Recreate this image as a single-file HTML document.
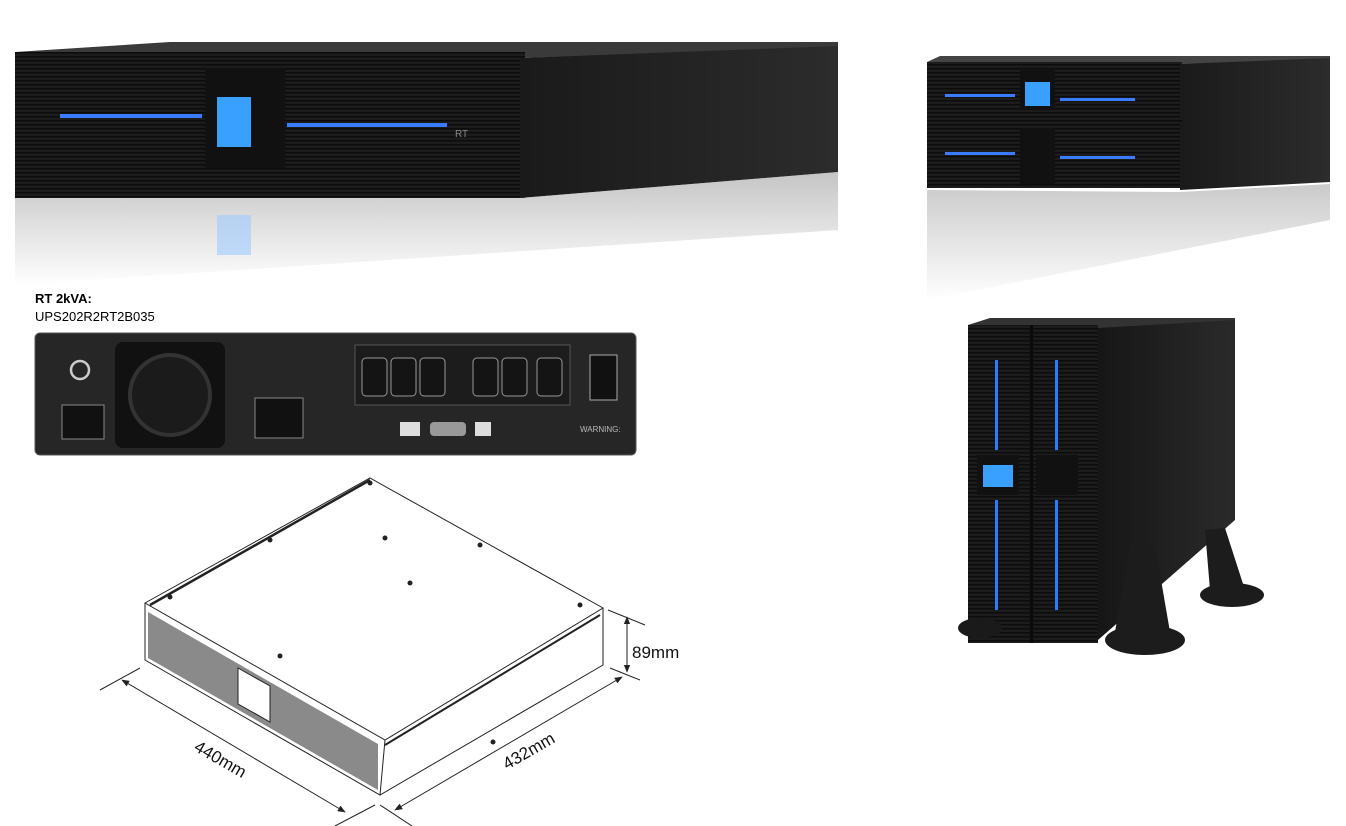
<!DOCTYPE html>
<html><head><meta charset="utf-8"><style>
html,body{margin:0;padding:0;background:#fff;}
svg{display:block;font-family:"Liberation Sans",Arial,sans-serif;}
</style></head><body>
<svg width="1346" height="826" viewBox="0 0 1346 826" xmlns="http://www.w3.org/2000/svg">
<defs>
<linearGradient id="refl" x1="0" y1="0" x2="0" y2="1">
<stop offset="0" stop-color="#8a8a8a"/><stop offset="1" stop-color="#fff"/></linearGradient>
<linearGradient id="side" x1="0" y1="0" x2="1" y2="0">
<stop offset="0" stop-color="#1a1a1a"/><stop offset="1" stop-color="#2c2c2c"/></linearGradient>
<linearGradient id="tower" x1="0" y1="0" x2="1" y2="0">
<stop offset="0" stop-color="#161616"/><stop offset="1" stop-color="#2a2a2a"/></linearGradient>
<pattern id="vent" width="6" height="4" patternUnits="userSpaceOnUse"><rect width="6" height="4" fill="#1c1c1c"/><rect width="6" height="1.5" fill="#0c0c0c"/></pattern>
<marker id="ar" viewBox="0 0 10 10" refX="9" refY="5" markerWidth="8" markerHeight="8" orient="auto-start-reverse"><path d="M0,1 L10,5 L0,9 z" fill="#222"/></marker>
</defs>

<!-- top-left UPS -->
<polygon points="15,52 170,42 838,42 838,48 520,58 15,58" fill="#3a3a3a"/>
<rect x="15" y="52" width="510" height="146" fill="url(#vent)"/>
<polygon points="520,58 838,46 838,172 520,198" fill="url(#side)"/>
<rect x="205" y="68" width="80" height="100" fill="#111"/>
<rect x="217" y="97" width="34" height="50" fill="#3aa0ff"/>
<rect x="60" y="114" width="142" height="4" fill="#3a7cff"/>
<rect x="287" y="123" width="160" height="4" fill="#3a7cff"/>
<text x="455" y="137" fill="#888" font-size="10">RT</text>
<polygon points="15,198 520,198 838,172 838,230 15,285" fill="url(#refl)" opacity="0.5"/>
<rect x="217" y="215" width="34" height="40" fill="#9ecbff" opacity="0.6"/>

<!-- right stacked units -->
<polygon points="927,62 940,56 1330,56 1330,62 1180,64 927,64" fill="#444"/>
<rect x="927" y="62" width="255" height="68" fill="url(#vent)"/>
<polygon points="1180,64 1330,58 1330,122 1180,130" fill="url(#side)"/>
<rect x="927" y="120" width="255" height="68" fill="url(#vent)"/>
<polygon points="1180,124 1330,116 1330,182 1180,190" fill="url(#side)"/>
<rect x="1020" y="70" width="35" height="40" fill="#111"/>
<rect x="1025" y="82" width="25" height="24" fill="#3aa0ff"/>
<rect x="945" y="94" width="70" height="3" fill="#3a7cff"/>
<rect x="1060" y="98" width="75" height="3" fill="#3a7cff"/>
<rect x="1020" y="128" width="35" height="56" fill="#111"/>
<rect x="945" y="152" width="70" height="3" fill="#3a7cff"/>
<rect x="1060" y="156" width="75" height="3" fill="#3a7cff"/>
<polygon points="927,190 1180,192 1330,184 1330,220 927,300" fill="url(#refl)" opacity="0.45"/>

<!-- labels -->
<text x="35" y="303" font-size="13" font-weight="bold" fill="#000">RT 2kVA:</text>
<text x="35" y="321" font-size="13" fill="#000">UPS202R2RT2B035</text>

<!-- rear panel -->
<rect x="35" y="333" width="601" height="122" rx="5" fill="#262626" stroke="#555"/>
<circle cx="80" cy="370" r="9" fill="none" stroke="#ccc" stroke-width="2.5"/>
<rect x="62" y="405" width="42" height="34" fill="#111" stroke="#888"/>
<rect x="115" y="342" width="110" height="106" rx="8" fill="#111"/>
<circle cx="170" cy="395" r="40" fill="#1b1b1b" stroke="#333" stroke-width="4"/>
<rect x="255" y="398" width="48" height="40" fill="#111" stroke="#888"/>
<rect x="355" y="345" width="215" height="60" fill="#1c1c1c" stroke="#555"/>
<g fill="#141414" stroke="#999">
<rect x="362" y="358" width="25" height="38" rx="4"/><rect x="391" y="358" width="25" height="38" rx="4"/><rect x="420" y="358" width="25" height="38" rx="4"/>
<rect x="473" y="358" width="25" height="38" rx="4"/><rect x="502" y="358" width="25" height="38" rx="4"/><rect x="537" y="358" width="25" height="38" rx="4"/>
</g>
<rect x="590" y="355" width="27" height="45" fill="#111" stroke="#aaa"/>
<rect x="400" y="422" width="20" height="14" fill="#ddd"/>
<rect x="430" y="422" width="36" height="14" rx="4" fill="#999"/>
<rect x="475" y="422" width="16" height="14" fill="#ddd"/>
<text x="580" y="432" font-size="8" fill="#bbb">WARNING:</text>

<!-- line drawing -->
<polygon points="148,612 378,744 378,790 148,658" fill="#8a8a8a"/>
<polygon points="238,668 270,686 270,722 238,704" fill="#fff" stroke="#222"/>
<rect x="243" y="679" width="20" height="22" fill="#fff" stroke="#222" transform="skewY(30) translate(0,-140)" opacity="0"/>
<g fill="none" stroke="#222" stroke-width="1">
<polygon points="145,603 370,478 603,608 385,740"/>
<polyline points="145,603 145,660 380,795 385,740"/>
<polyline points="380,795 603,665 603,608"/>
<line x1="150" y1="605" x2="370" y2="480" stroke-width="2.5"/>
<line x1="385" y1="745" x2="600" y2="615" stroke-width="2"/>
<line x1="100" y1="690" x2="140" y2="668" /><line x1="335" y1="826" x2="375" y2="805"/>
<line x1="122" y1="680" x2="345" y2="812" marker-start="url(#ar)" marker-end="url(#ar)"/>
<line x1="380" y1="805" x2="412" y2="826"/>
<line x1="395" y1="810" x2="622" y2="677" marker-start="url(#ar)" marker-end="url(#ar)"/>
<line x1="608" y1="610" x2="645" y2="625"/><line x1="610" y1="668" x2="640" y2="680"/>
<line x1="627" y1="617" x2="627" y2="672" marker-start="url(#ar)" marker-end="url(#ar)"/>
</g>
<g fill="#222">
<circle cx="170" cy="597" r="2.5"/><circle cx="270" cy="540" r="2.5"/><circle cx="370" cy="483" r="2.5"/>
<circle cx="385" cy="538" r="2.5"/><circle cx="480" cy="545" r="2.5"/><circle cx="410" cy="583" r="2.5"/>
<circle cx="580" cy="605" r="2.5"/><circle cx="280" cy="656" r="2.5"/><circle cx="493" cy="742" r="2.5"/>
</g>
<text x="632" y="658" font-size="17" fill="#111">89mm</text>
<text font-size="17" fill="#111" transform="translate(193,750) rotate(30)">440mm</text>
<text font-size="17" fill="#111" transform="translate(507,770) rotate(-30)">432mm</text>

<!-- tower -->
<polygon points="968,325 990,318 1235,318 1235,328 1100,328 968,330" fill="#333"/>
<rect x="968" y="325" width="130" height="318" fill="url(#vent)"/>
<rect x="1030" y="325" width="3" height="318" fill="#0a0a0a"/>
<polygon points="1098,328 1235,320 1235,520 1098,640" fill="url(#tower)"/>
<rect x="995" y="360" width="3" height="90" fill="#2d7cff"/><rect x="995" y="500" width="3" height="110" fill="#2d7cff"/>
<rect x="1055" y="360" width="3" height="90" fill="#2d7cff"/><rect x="1055" y="500" width="3" height="110" fill="#2d7cff"/>
<rect x="977" y="455" width="42" height="40" fill="#111"/><rect x="983" y="465" width="30" height="22" fill="#3aa0ff"/>
<rect x="1036" y="455" width="42" height="40" fill="#111"/>
<ellipse cx="980" cy="628" rx="22" ry="10" fill="#1a1a1a"/>
<ellipse cx="1145" cy="640" rx="40" ry="15" fill="#1c1c1c"/>
<polygon points="1130,545 1155,545 1170,632 1115,632" fill="#1c1c1c"/>
<ellipse cx="1232" cy="595" rx="32" ry="12" fill="#1c1c1c"/>
<polygon points="1205,530 1225,528 1245,590 1210,590" fill="#1c1c1c"/>
</svg>
</body></html>
